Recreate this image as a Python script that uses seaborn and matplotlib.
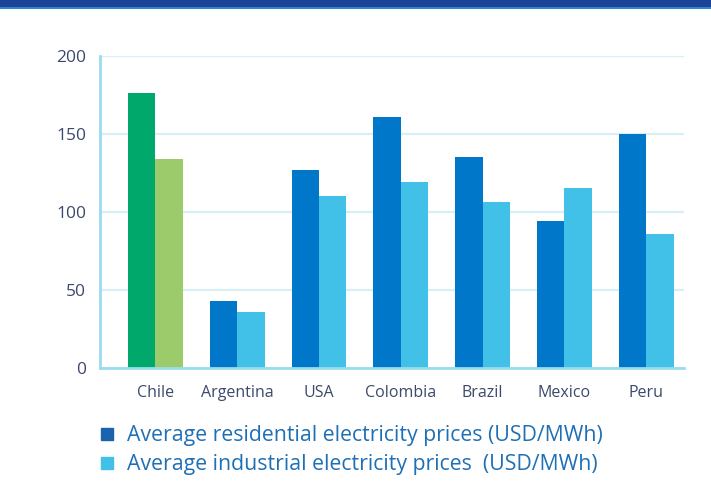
import pandas as pd
import matplotlib.pyplot as plt
import matplotlib.patches as patches
from matplotlib.lines import Line2D
import seaborn as sns

countries = ['Chile', 'Argentina', 'USA', 'Colombia', 'Brazil', 'Mexico', 'Peru']
residential = [176, 43, 127, 161, 135, 94, 150]
industrial = [134, 36, 110, 119, 106, 115, 86]
series_names = ['Average residential electricity prices (USD/MWh)',
                'Average industrial electricity prices  (USD/MWh)']

df = pd.DataFrame({
    'country': countries * 2,
    'price': residential + industrial,
    'series': [series_names[0]] * len(countries) + [series_names[1]] * len(countries),
})

dark_blue = '#0077C8'
light_blue = '#41C0E8'
chile_dark = '#00A86B'
chile_light = '#9BCB6B'
grid_col = '#D9EFF8'
spine_col = '#9ADCEF'
tick_col = '#3B4A6B'

sns.set_theme(style='white')
plt.rcParams['font.family'] = ['Open Sans', 'DejaVu Sans']

fig = plt.figure(figsize=(7.11, 4.83), dpi=100)
ax = fig.add_axes([0.1406, 0.238, 0.962 - 0.1406, 0.8847 - 0.238])

sns.barplot(data=df, x='country', y='price', hue='series',
            palette=[dark_blue, light_blue], width=0.67, saturation=1,
            edgecolor='none', legend=False, ax=ax)

# Chile bars are green in the original
for bar in ax.patches:
    cx = bar.get_x() + bar.get_width() / 2
    if cx < 0.5:
        bar.set_facecolor(chile_dark if cx < 0 else chile_light)

ax.set_ylim(0, 200)
ax.set_xlim(-0.676, 6.46)
ax.set_yticks([0, 50, 100, 150, 200])
ax.yaxis.grid(True, color=grid_col, lw=1.6)
ax.set_axisbelow(True)
ax.set_xlabel('')
ax.set_ylabel('')

for side in ['top', 'right']:
    ax.spines[side].set_visible(False)
for side in ['left', 'bottom']:
    ax.spines[side].set_color(spine_col)
    ax.spines[side].set_linewidth(2)

ax.tick_params(axis='both', length=0, colors=tick_col)
ax.tick_params(axis='x', pad=12, labelsize=11.5)
ax.tick_params(axis='y', pad=10, labelsize=12.5)

# top banner
fig.add_artist(patches.Rectangle((0, 1 - 7 / 483), 1, 7 / 483, transform=fig.transFigure,
                                 color='#1C4397', lw=0))
fig.add_artist(patches.Rectangle((0, 1 - 9 / 483), 1, 2 / 483, transform=fig.transFigure,
                                 color='#2E86D0', lw=0))

handles = [Line2D([], [], marker='s', ls='', markersize=9, color='#1B63AE'),
           Line2D([], [], marker='s', ls='', markersize=9, color=light_blue)]
fig.legend(handles, series_names, loc='upper left', bbox_to_anchor=(0.126, 0.137),
           frameon=False, fontsize=15.3, labelcolor='#1F6FB5', handletextpad=0.58,
           handlelength=0.8, labelspacing=0.38, borderaxespad=0)

fig.savefig('out.png', dpi=100)
